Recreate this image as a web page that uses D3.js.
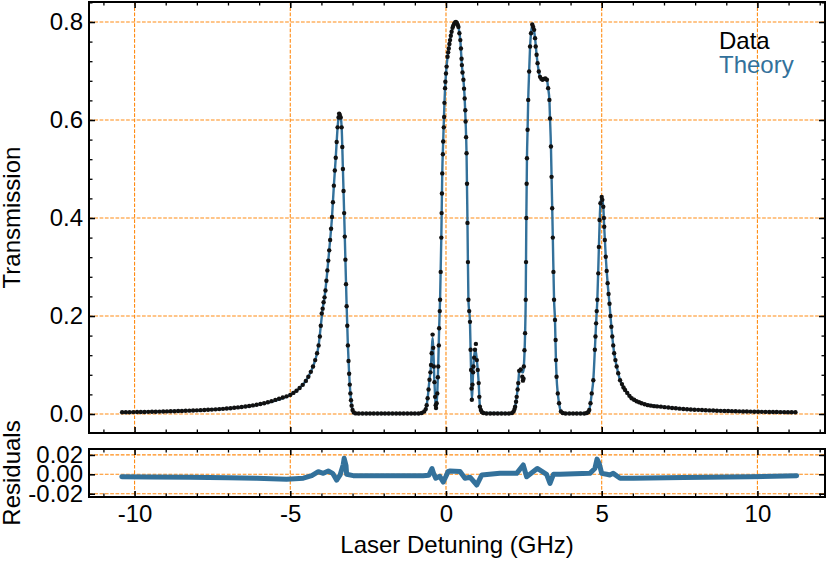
<!DOCTYPE html>
<html>
<head>
<meta charset="utf-8">
<script src="https://cdn.jsdelivr.net/npm/d3@7"></script>
<style>
  body { margin: 0; background: #fff; }
  svg { display: block; font-family: "Liberation Sans", Arial, sans-serif; }
</style>
</head>
<body>
<svg id="chart" width="830" height="561"></svg>
<script>
const xTicks = [-10, -5, 0, 5, 10]
const xMinor = [-11, -9, -8, -7, -6, -4, -3, -2, -1, 1, 2, 3, 4, 6, 7, 8, 9, 11, 12]
const yTicks = [0, 0.2, 0.4, 0.6, 0.8]
const yMinor = [0.04, 0.08, 0.12, 0.16, 0.24, 0.28, 0.32, 0.36, 0.44, 0.48, 0.52, 0.56, 0.64, 0.68, 0.72, 0.76, 0.84]
const residTicks = [-0.02, 0, 0.02]

// measured transmission (GHz, T)
const dataPoints = [
  [-10.40,.0035],[-10.28,.0036],[-10.16,.0037],[-10.04,.0039],[-9.92,.0040],[-9.80,.0041],[-9.68,.0042],[-9.56,.0044],
  [-9.44,.0045],[-9.32,.0047],[-9.20,.0049],[-9.08,.0051],[-8.96,.0053],[-8.84,.0055],[-8.72,.0057],[-8.60,.0060],
  [-8.48,.0062],[-8.36,.0065],[-8.24,.0068],[-8.12,.0071],[-8.00,.0074],[-7.88,.0078],[-7.76,.0082],[-7.64,.0086],
  [-7.52,.0090],[-7.40,.0095],[-7.28,.0100],[-7.16,.0105],[-7.04,.0111],[-6.92,.0118],[-6.80,.0126],[-6.68,.0134],
  [-6.56,.0142],[-6.44,.0152],[-6.32,.0163],[-6.20,.0175],[-6.08,.0188],[-5.96,.0203],[-5.84,.0220],[-5.72,.0240],
  [-5.60,.0262],[-5.48,.0288],[-5.36,.0310],[-5.24,.0335],[-5.12,.0360],[-5.00,.0390],[-4.90,.0430],[-4.80,.0475],
  [-4.70,.0530],[-4.60,.0595],[-4.50,.0675],[-4.42,.0760],[-4.34,.0860],[-4.27,.0970],[-4.20,.1100],[-4.14,.1240],
  [-4.09,.1400],[-4.05,.1580],[-4.02,.1800],[-3.99,.2050],
  [-3.96,.215],[-3.93,.228],[-3.90,.238],[-3.87,.252],[-3.84,.272],[-3.81,.293],[-3.78,.313],[-3.75,.334],
  [-3.72,.355],[-3.69,.378],[-3.66,.402],[-3.63,.432],[-3.60,.466],[-3.57,.497],[-3.54,.523],[-3.51,.555],
  [-3.48,.585],[-3.45,.605],[-3.43,.613],[-3.41,.610],[-3.38,.605],[-3.35,.585],[-3.33,.545],[-3.31,.500],
  [-3.29,.455],[-3.27,.410],[-3.25,.362],[-3.23,.315],[-3.21,.265],[-3.19,.220],[-3.17,.180],[-3.15,.140],
  [-3.13,.108],[-3.11,.082],[-3.09,.060],[-3.07,.042],[-3.05,.028],[-3.03,.017],[-3.00,.008],[-2.96,.003],
  [-2.90,.0012],[-2.80,.001],[-2.68,.001],[-2.56,.001],[-2.44,.001],[-2.32,.001],[-2.20,.001],[-2.08,.001],
  [-1.96,.001],[-1.84,.001],[-1.72,.001],[-1.60,.001],[-1.48,.001],[-1.36,.001],[-1.24,.001],[-1.12,.001],
  [-1.00,.001],[-0.88,.001],[-0.78,.002],[-0.70,.005],
  [-0.65,.010],[-0.62,.018],[-0.59,.032],[-0.56,.050],[-0.53,.070],[-0.50,.085],[-0.48,.100],[-0.46,.124],
  [-0.43,.162],[-0.41,.135],[-0.39,.097],[-0.37,.065],[-0.35,.035],[-0.33,.018],[-0.32,.012],[-0.30,.022],
  [-0.28,.042],[-0.26,.075],[-0.25,.097],[-0.23,.140],[-0.22,.175],[-0.20,.210],[-0.19,.233],
  [-0.17,.29],[-0.15,.36],[-0.14,.41],[-0.13,.45],[-0.12,.491],[-0.10,.53],[-0.09,.556],[-0.07,.585],
  [-0.06,.606],[-0.05,.635],[-0.03,.665],[-0.02,.678],[0.00,.695],[0.02,.709],[0.05,.729],[0.07,.738],
  [0.09,.746],[0.11,.755],[0.13,.763],[0.155,.772],[0.18,.780],[0.21,.788],[0.23,.792],[0.26,.796],
  [0.29,.799],[0.32,.800],[0.35,.798],[0.38,.794],[0.40,.790],[0.43,.777],[0.46,.763],[0.48,.746],
  [0.50,.725],[0.51,.712],[0.53,.697],[0.56,.682],[0.58,.664],[0.60,.644],[0.62,.620],[0.63,.597],
  [0.645,.565],[0.66,.532],[0.675,.470],[0.69,.390],[0.705,.310],[0.72,.233],[0.745,.210],[0.77,.188],
  [0.79,.131],[0.805,.090],[0.82,.052],[0.83,.029],
  [0.85,.060],[0.87,.085],[0.88,.097],[0.905,.115],[0.93,.131],[0.96,.143],[0.99,.110],[1.02,.090],
  [1.05,.063],[1.07,.035],[1.09,.015],[1.12,.008],[1.15,.004],[1.20,.002],
  [1.30,.001],[1.42,.001],[1.54,.001],[1.66,.001],[1.78,.001],[1.90,.001],[2.02,.001],[2.12,.002],
  [2.17,.005],[2.20,.010],[2.22,.015],[2.25,.025],[2.27,.035],[2.30,.050],[2.32,.063],[2.35,.088],
  [2.40,.091],[2.45,.076],[2.47,.068],[2.49,.072],[2.50,.097],[2.52,.130],[2.54,.165],[2.56,.233],
  [2.57,.310],[2.58,.400],[2.59,.470],[2.60,.522],[2.62,.580],[2.64,.641],[2.67,.699],[2.70,.750],
  [2.73,.777],[2.77,.795],[2.80,.790],[2.83,.784],[2.86,.767],[2.88,.750],[2.91,.733],[2.94,.716],
  [2.98,.699],[3.02,.688],[3.06,.684],[3.10,.682],[3.15,.684],[3.19,.685],[3.24,.682],[3.28,.665],
  [3.32,.641],[3.34,.603],[3.37,.546],[3.39,.484],[3.41,.420],[3.43,.360],[3.45,.290],[3.47,.233],
  [3.50,.192],[3.52,.151],[3.53,.110],[3.55,.076],[3.59,.042],[3.63,.022],[3.69,.005],[3.75,.002],
  [3.84,.001],[3.96,.001],[4.08,.001],[4.20,.001],[4.32,.001],[4.44,.001],[4.52,.002],[4.57,.004],
  [4.60,.008],[4.64,.022],[4.68,.042],[4.73,.069],[4.78,.131],[4.80,.158],[4.82,.185],[4.84,.210],
  [4.86,.233],[4.89,.287],[4.91,.341],[4.93,.396],[4.96,.430],[5.00,.443],[5.02,.437],[5.05,.423],
  [5.07,.400],[5.08,.382],[5.10,.355],[5.13,.321],[5.16,.292],[5.19,.267],[5.22,.245],[5.25,.225],
  [5.28,.200],[5.31,.178],[5.34,.158],[5.37,.140],[5.40,.124],[5.44,.110],[5.48,.097],[5.53,.083],
  [5.59,.069],[5.65,.061],[5.70,.054],[5.75,.049],[5.82,.043],[5.89,.037],[5.96,.032],[6.04,.029],
  [6.12,.026],[6.20,.024],[6.28,.022],[6.38,.020],[6.48,.018],[6.58,.017],[6.68,.016],[6.78,.0155],
  [6.90,.0150],[7.02,.0140],[7.14,.0131],[7.26,.0123],[7.38,.0116],[7.50,.0109],[7.62,.0103],[7.74,.0098],
  [7.86,.0093],[7.98,.0088],[8.10,.0084],[8.22,.0080],[8.34,.0076],[8.46,.0073],[8.58,.0070],[8.70,.0067],
  [8.82,.0064],[8.94,.0062],[9.06,.0060],[9.18,.0058],[9.30,.0056],[9.42,.0054],[9.54,.0052],[9.66,.0050],
  [9.78,.0049],[9.90,.0047],[10.02,.0046],[10.14,.0044],[10.26,.0043],[10.38,.0042],[10.50,.0041],[10.62,.0040],
  [10.74,.0039],[10.86,.0038],[10.98,.0037],[11.10,.0036],[11.22,.0035]
]

// theory curve (GHz, T)
const theoryPoints = [
  [-10.4,.0035],[-9.5,.0045],[-8.5,.0062],[-7.5,.0090],[-7,.0112],[-6.5,.0146],[-6,.0195],[-5.5,.0270],
  [-5,.039],[-4.75,.050],[-4.5,.0675],[-4.34,.086],[-4.2,.110],[-4.09,.140],[-4.02,.18],[-3.96,.215],
  [-3.90,.238],[-3.84,.272],[-3.75,.334],[-3.66,.402],[-3.60,.466],[-3.54,.523],[-3.48,.585],[-3.45,.605],
  [-3.43,.612],[-3.41,.610],[-3.38,.605],[-3.35,.585],[-3.31,.500],[-3.27,.410],[-3.23,.315],[-3.19,.220],
  [-3.15,.140],[-3.11,.082],[-3.07,.042],[-3.03,.017],[-2.98,.005],[-2.9,.0012],[-0.8,.0012],[-0.72,.004],
  [-0.65,.010],[-0.59,.032],[-0.53,.070],[-0.48,.100],[-0.45,.137],[-0.43,.155],[-0.41,.135],[-0.37,.065],
  [-0.33,.018],[-0.31,.014],[-0.28,.042],[-0.25,.097],[-0.22,.175],[-0.19,.233],[-0.15,.36],[-0.12,.491],
  [-0.09,.556],[-0.05,.635],[0,.695],[0.05,.729],[0.09,.746],[0.13,.763],[0.18,.780],[0.23,.792],
  [0.29,.799],[0.32,.800],[0.35,.798],[0.40,.790],[0.46,.763],[0.51,.712],[0.56,.682],[0.60,.644],
  [0.63,.597],[0.66,.532],[0.69,.39],[0.72,.233],[0.77,.188],[0.79,.131],[0.82,.052],[0.835,.03],
  [0.86,.07],[0.88,.097],[0.92,.125],[0.95,.13],[0.99,.11],[1.02,.09],[1.05,.063],[1.07,.035],
  [1.09,.015],[1.12,.007],[1.18,.002],[2.1,.0015],[2.18,.007],[2.22,.015],[2.27,.035],[2.32,.063],
  [2.35,.085],[2.40,.091],[2.45,.085],[2.48,.085],[2.50,.097],[2.54,.165],[2.56,.233],[2.58,.40],
  [2.60,.522],[2.62,.58],[2.64,.641],[2.67,.699],[2.70,.75],[2.73,.777],[2.77,.794],[2.80,.790],
  [2.86,.767],[2.91,.733],[2.98,.699],[3.02,.688],[3.10,.682],[3.19,.685],[3.24,.682],[3.28,.665],
  [3.32,.641],[3.34,.603],[3.37,.546],[3.39,.484],[3.43,.36],[3.47,.233],[3.50,.192],[3.53,.11],
  [3.55,.076],[3.59,.042],[3.63,.022],[3.69,.005],[3.76,.0015],[4.5,.0015],[4.57,.004],[4.60,.008],
  [4.64,.022],[4.68,.042],[4.73,.069],[4.78,.131],[4.82,.185],[4.86,.233],[4.91,.341],[4.96,.43],
  [5.00,.442],[5.05,.423],[5.08,.382],[5.13,.321],[5.19,.267],[5.25,.225],[5.31,.178],[5.40,.124],
  [5.48,.097],[5.59,.069],[5.75,.049],[5.96,.032],[6.28,.022],[6.8,.016],[7.5,.011],[8.5,.0072],
  [9.5,.0052],[10.5,.0041],[11.22,.0035]
]

// residuals (GHz, data - theory)
const residualPoints = [
  [-10.41,-.0025],[-9.5,-.0028],[-8.22,-.003],[-7,-.0035],[-6.08,-.004],[-5.12,-.005],[-4.58,-.004],[-4.31,-.0014],
  [-4.10,.0027],[-3.94,.001],[-3.78,.0034],[-3.64,.001],[-3.51,-.006],[-3.40,-.0007],[-3.30,.010],[-3.27,.0165],
  [-3.21,.009],[-3.19,0],[-2.98,-.0014],[-0.73,-.0014],[-0.55,-.001],[-0.45,.006],[-0.40,.001],[-0.33,-.004],
  [-0.2,-.002],[-0.09,-.008],[0.0,-.002],[0.07,.003],[0.13,.0034],[0.45,.003],[0.61,-.004],[0.77,-.003],
  [0.99,-.011],[1.15,-.0007],[1.73,.001],[2.27,.001],[2.48,.0096],[2.59,-.0025],[2.93,.006],[3.23,0],
  [3.34,-.0093],[3.45,0],[3.66,0],[4.62,.001],[4.78,.006],[4.85,.0157],[4.92,.011],[5.00,.001],
  [5.16,0],[5.26,-.0007],[5.37,.001],[5.59,-.004],[6.02,-.004],[7.62,-.0033],[9.76,-.0025],[11.26,-.0014]
]

const svg = d3.select('#chart')
const left = 89
const right = 825
const mainTop = 2
const mainBottom = 433
const resTop = 449
const resBottom = 497

const orange = '#ff8c14'
const blue = '#33719b'
const fontSize = 24

const x = d3.scaleLinear().domain([-11.463, 12.17]).range([left, right])
const y = d3.scaleLinear().domain([-0.0388, 0.8408]).range([mainBottom, mainTop])
const yr = d3.scaleLinear().domain([-0.0234, 0.0261]).range([resBottom, resTop])

function grid(ys, top, bottom, yValues) {
  const g = svg.append('g')
    .attr('stroke', orange)
    .attr('stroke-width', 1.1)
    .attr('stroke-dasharray', '3.7,1.6')
  g.selectAll('line.v')
    .data(xTicks)
    .enter()
    .append('line')
    .attr('x1', d => x(d)).attr('x2', d => x(d))
    .attr('y1', top).attr('y2', bottom)
  g.selectAll('line.h')
    .data(yValues)
    .enter()
    .append('line')
    .attr('x1', left).attr('x2', right)
    .attr('y1', d => ys(d)).attr('y2', d => ys(d))
}

function styleAxis(g, width) {
  g.select('.domain').remove()
  g.attr('font-size', fontSize).attr('font-family', null)
  g.selectAll('.tick line').attr('stroke', '#000').attr('stroke-width', width)
  g.selectAll('.tick text').attr('fill', '#000')
}

function axes(ys, top, bottom, yValues, yMinorValues, fmt, xLabels) {
  const gb = svg.append('g').attr('transform', `translate(0,${bottom})`)
    .call(d3.axisBottom(x).tickValues(xTicks).tickSize(-6).tickSizeOuter(0).tickPadding(8)
      .tickFormat(xLabels ? d => String(d) : ''))
  styleAxis(gb, 1.6)
  const gbm = svg.append('g').attr('transform', `translate(0,${bottom})`)
    .call(d3.axisBottom(x).tickValues(xMinor).tickSize(-3.5).tickSizeOuter(0).tickFormat(''))
  styleAxis(gbm, 1.3)
  const gt = svg.append('g').attr('transform', `translate(0,${top})`)
    .call(d3.axisTop(x).tickValues(xTicks).tickSize(-6).tickSizeOuter(0).tickFormat(''))
  styleAxis(gt, 1.6)
  const gtm = svg.append('g').attr('transform', `translate(0,${top})`)
    .call(d3.axisTop(x).tickValues(xMinor).tickSize(-3.5).tickSizeOuter(0).tickFormat(''))
  styleAxis(gtm, 1.3)

  const gl = svg.append('g').attr('transform', `translate(${left},0)`)
    .call(d3.axisLeft(ys).tickValues(yValues).tickSize(-6).tickSizeOuter(0).tickPadding(6).tickFormat(fmt))
  styleAxis(gl, 1.6)
  const gr = svg.append('g').attr('transform', `translate(${right},0)`)
    .call(d3.axisRight(ys).tickValues(yValues).tickSize(-6).tickSizeOuter(0).tickFormat(''))
  styleAxis(gr, 1.6)
  if (yMinorValues.length) {
    const glm = svg.append('g').attr('transform', `translate(${left},0)`)
      .call(d3.axisLeft(ys).tickValues(yMinorValues).tickSize(-3.5).tickSizeOuter(0).tickFormat(''))
    styleAxis(glm, 1.3)
    const grm = svg.append('g').attr('transform', `translate(${right},0)`)
      .call(d3.axisRight(ys).tickValues(yMinorValues).tickSize(-3.5).tickSizeOuter(0).tickFormat(''))
    styleAxis(grm, 1.3)
  }

  svg.append('rect')
    .attr('x', left).attr('y', top)
    .attr('width', right - left).attr('height', bottom - top)
    .attr('fill', 'none').attr('stroke', '#000').attr('stroke-width', 2)
}

// main panel
grid(y, mainTop, mainBottom, yTicks)

svg.append('path')
  .datum(theoryPoints)
  .attr('fill', 'none')
  .attr('stroke', blue)
  .attr('stroke-width', 2.4)
  .attr('stroke-linejoin', 'round')
  .attr('d', d3.line().x(d => x(d[0])).y(d => y(d[1])).curve(d3.curveMonotoneX))

svg.append('g')
  .selectAll('circle')
  .data(dataPoints)
  .enter()
  .append('circle')
  .attr('cx', d => x(d[0]))
  .attr('cy', d => y(d[1]))
  .attr('r', 2.2)
  .attr('fill', '#111')

axes(y, mainTop, mainBottom, yTicks, yMinor, d => d.toFixed(1), false)

// residual panel
grid(yr, resTop, resBottom, residTicks)

svg.append('path')
  .datum(residualPoints)
  .attr('fill', 'none')
  .attr('stroke', blue)
  .attr('stroke-width', 5)
  .attr('stroke-linejoin', 'round')
  .attr('stroke-linecap', 'round')
  .attr('d', d3.line().x(d => x(d[0])).y(d => yr(d[1])))

axes(yr, resTop, resBottom, residTicks, [], d => d.toFixed(2), true)

// legend
svg.append('text')
  .attr('x', 719).attr('y', 49)
  .attr('font-size', fontSize)
  .attr('fill', '#000')
  .text('Data')
svg.append('text')
  .attr('x', 719).attr('y', 73)
  .attr('font-size', fontSize)
  .attr('fill', blue)
  .text('Theory')

// axis titles
svg.append('text')
  .attr('transform', `translate(20,${(mainTop + mainBottom) / 2}) rotate(-90)`)
  .attr('text-anchor', 'middle')
  .attr('font-size', fontSize)
  .text('Transmission')
svg.append('text')
  .attr('transform', `translate(20,${(resTop + resBottom) / 2}) rotate(-90)`)
  .attr('text-anchor', 'middle')
  .attr('font-size', fontSize)
  .text('Residuals')
svg.append('text')
  .attr('x', (left + right) / 2)
  .attr('y', 553)
  .attr('text-anchor', 'middle')
  .attr('font-size', fontSize)
  .text('Laser Detuning (GHz)')
</script>
</body>
</html>
